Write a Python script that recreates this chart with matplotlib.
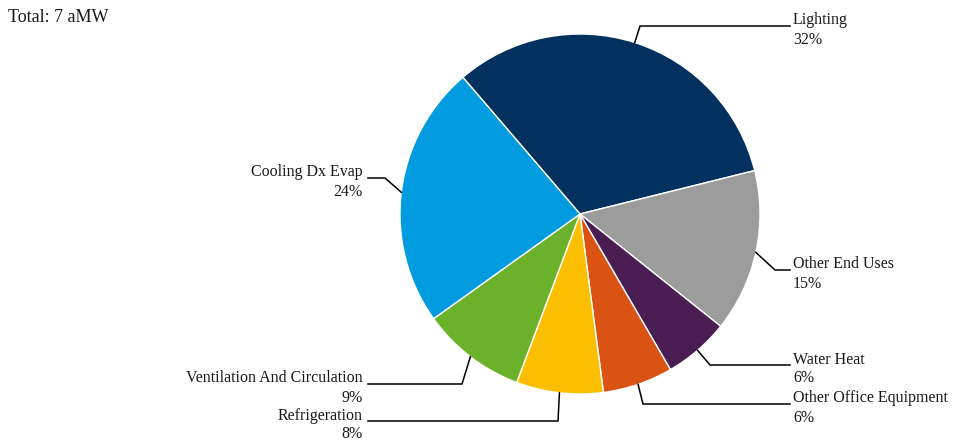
import matplotlib
matplotlib.use("Agg")
import matplotlib.pyplot as plt
import numpy as np

# ---------------------------------------------------------------------------
# Data
# ---------------------------------------------------------------------------
categories = ["Lighting", "Other End Uses", "Water Heat", "Other Office Equipment",
              "Refrigeration", "Ventilation And Circulation", "Cooling Dx Evap"]
shares = [32.4, 14.6, 5.9, 6.3, 7.8, 9.4, 23.6]
total_label = "Total: 7 aMW"

colors = ["#023160", "#9c9c9c", "#4a1e53", "#da5313",
          "#fcbf00", "#6cb12a", "#009cdf"]

# ---------------------------------------------------------------------------
# Layout (pixel space, y measured from top)
# ---------------------------------------------------------------------------
W, H = 960, 445
CX, CY, R = 580, 214, 180
START = 130.6  # deg, matplotlib convention
# elbow point of each connector (x, y) and side of the label
elbows = [(640, 26, "r"), (775, 270, "r"), (710, 365, "r"), (643, 404, "r"),
          (558, 421, "l"), (462, 384, "l"), (385, 178, "l")]
RIGHT_X, LEFT_X = 790, 368

plt.rcParams["font.family"] = ["Liberation Serif", "DejaVu Serif"]

fig = plt.figure(figsize=(W / 100, H / 100), dpi=100)
ax = fig.add_axes([0, 0, 1, 1])

wedges, _ = ax.pie(
    shares, colors=colors, startangle=START, counterclock=False,
    radius=R, center=(CX, H - CY), frame=True,
    wedgeprops=dict(edgecolor="white", linewidth=1.0),
)
ax.set_xlim(0, W)
ax.set_ylim(0, H)
ax.set_aspect("equal")
ax.axis("off")

total = sum(shares)
for w, name, val, (ex, ey, side) in zip(wedges, categories, shares, elbows):
    mid = np.deg2rad((w.theta1 + w.theta2) / 2)
    px = CX + R * np.cos(mid)
    py = (H - CY) + R * np.sin(mid)
    end_x = RIGHT_X if side == "r" else LEFT_X
    ax.plot([px, ex, end_x], [py, H - ey, H - ey], color="black", lw=1.1,
            solid_joinstyle="miter", zorder=5)
    pct = f"{round(val / total * 100):.0f}%"
    if side == "r":
        ax.text(end_x + 3, H - ey - 4, f"{name}\n{pct}", ha="left", va="center",
                fontsize=11.5, linespacing=1.25, color="#1a1a1a")
    else:
        ax.text(end_x - 5, H - ey - 4, f"{name}\n{pct}", ha="right", va="center",
                fontsize=11.5, linespacing=1.25, color="#1a1a1a",
                multialignment="right")

ax.text(8, H - 17, total_label, ha="left", va="center", fontsize=13,
        color="#1a1a1a")

fig.savefig("out.png", dpi=100)
